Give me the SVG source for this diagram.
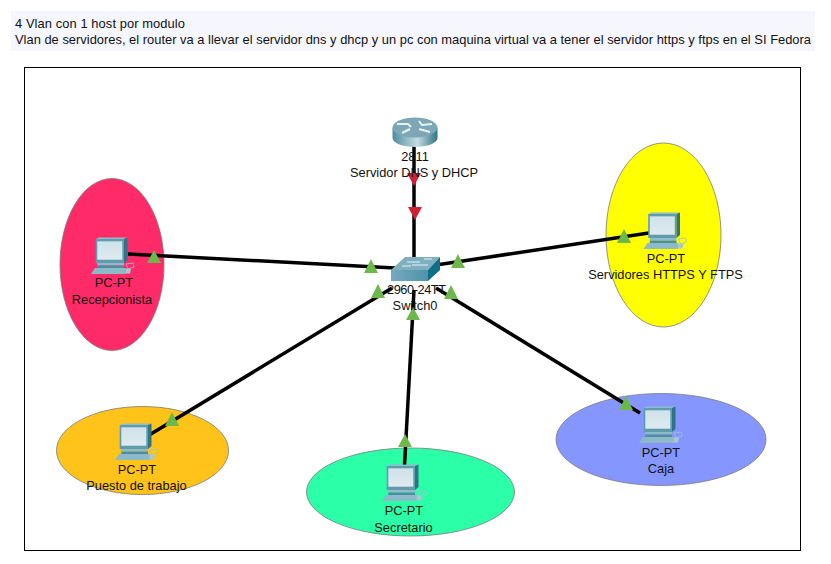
<svg xmlns="http://www.w3.org/2000/svg" width="831" height="564" viewBox="0 0 831 564">
<style>
text{font-family:"Liberation Sans",Arial,sans-serif;font-size:12.8px;fill:#111}
.h{font-size:12.9px}
.c{text-anchor:middle}
.l{stroke:#000;stroke-width:3.5;fill:none}
.g{fill:#6cb84a}
.r{fill:#d02035}
.z{stroke:#7a7a7a;stroke-width:.8}
</style>
<defs>
<linearGradient id="sc" x1="0" y1="0" x2="0" y2="1"><stop offset="0" stop-color="#cfe2ea"/><stop offset="1" stop-color="#dfeaf0"/></linearGradient>
<linearGradient id="rt" x1="0" y1="0" x2="1" y2="0"><stop offset="0" stop-color="#4f8c9c"/><stop offset=".55" stop-color="#c4dce3"/><stop offset="1" stop-color="#2f7486"/></linearGradient>
<linearGradient id="sw" x1="0" y1="0" x2="1" y2="0"><stop offset="0" stop-color="#74aabd"/><stop offset="1" stop-color="#4f93aa"/></linearGradient>
<g id="pc">
<path d="M-17 -3L-14 -4.500H14.500L11 -3Z" fill="#8fbccb"/>
<rect x="-17.300" y="-3" width="28.300" height="24" fill="#5f9cae"/>
<path d="M11 -3L14.500 -4.500V18L11 21Z" fill="#2f7486"/>
<rect x="-15.700" y="-.7" width="25" height="18.400" fill="url(#sc)"/>
<path d="M-15.700 21H11V23.500H-15.700Z" fill="#8fbccb"/>
<path d="M-15.700 23.500H11V26H-15.700Z" fill="#4e8d9f"/>
<path d="M-18 26H13L12.700 32H-22Z" fill="#8dbac8"/>
<path d="M13 22L20 21L21 25L15 27Z" fill="none" stroke="#9cc1cd" stroke-width=".8"/>
<path d="M13 26.500H18L17 31.500H12.500Z" fill="#a9c8d3"/>
</g>
</defs>
<rect x="0" y="0" width="831" height="564" fill="#fff"/>
<rect x="11" y="11" width="804" height="40" fill="#f6f7fe"/>
<text class="h" x="15" y="28" textLength="170">4 Vlan con 1 host por modulo</text>
<text class="h" x="15" y="44" textLength="796">Vlan de servidores, el router va a llevar el servidor dns y dhcp y un pc con maquina virtual va a tener el servidor https y ftps en el SI Fedora</text>
<rect x="24.500" y="67.500" width="776" height="483" fill="#fff" stroke="#000" stroke-width="1"/>
<g id="zones">
<ellipse class="z" cx="112" cy="264.500" rx="52" ry="86" fill="#ff2a68"/>
<ellipse class="z" cx="663.500" cy="235" rx="57.500" ry="92" fill="#ffff00"/>
<ellipse class="z" cx="142.500" cy="450.500" rx="86" ry="44" fill="#ffc31a"/>
<ellipse class="z" cx="410.500" cy="492" rx="104" ry="44" fill="#2bffa8"/>
<ellipse class="z" cx="661" cy="439.500" rx="105" ry="46" fill="#8696ff"/>
</g>
<g id="connectors">
<path class="l" d="M414 145V262"/>
<path class="l" d="M128 254L395 268"/>
<path class="l" d="M436 265L662 231"/>
<path class="l" d="M392 288L141 440"/>
<path class="l" d="M414 290L404 475"/>
<path class="l" d="M436 288L640 413"/>
<polygon class="r" points="407,173 421,173 414,186"/>
<polygon class="r" points="408,207 422,207 415,220"/>
<polygon class="g" points="154,250 161,263 147,263"/>
<polygon class="g" points="371,259 378,273 364,273"/>
<polygon class="g" points="458,254 465,268 451,268"/>
<polygon class="g" points="624,229 631,243 617,243"/>
<polygon class="g" points="378,284 385,298 371,298"/>
<polygon class="g" points="172,412 179,426 165,426"/>
<polygon class="g" points="413,307 420,320 406,320"/>
<polygon class="g" points="405,434 412,447 398,447"/>
<polygon class="g" points="451,285 458,299 444,299"/>
<polygon class="g" points="626,396 633,410 619,410"/>
</g>
<g id="router">
<path d="M392.500 128V138C392.500 143 403 147 415 147C427 147 437.500 143 437.500 138V128Z" fill="url(#rt)"/>
<ellipse cx="415" cy="127.500" rx="22.500" ry="10" fill="#7da7b4"/>
<path d="M397 124L408 124L411 127M432 124L422 125L419 121M402 133L410 129M419 129L430 132" stroke="#e8f2f5" stroke-width="2" fill="none"/>
<text class="c" x="415" y="161">2811</text>
<text class="c" x="414" y="177">Servidor DNS y DHCP</text>
</g>
<g id="switch">
<path d="M391 270L405 257H440L428 270Z" fill="#7fb0c0"/>
<path d="M391 270H428V281H391Z" fill="url(#sw)"/>
<path d="M428 270L440 257V270L428 281Z" fill="#0f6f86"/>
<path d="M407 262H420M424 259L432 259M412 265H428M402 266H411" stroke="#e8f2f5" stroke-width="1.200"/>
<text class="c" x="416.500" y="294" textLength="59">2960-24TT</text>
<text class="c" x="415" y="310">Switch0</text>
</g>
<g id="pc-recepcionista">
<use href="#pc" x="113" y="242"/>
<text class="c" x="114" y="287">PC-PT</text>
<text class="c" x="112" y="304">Recepcionista</text>
</g>
<g id="pc-servidores">
<use href="#pc" x="665.500" y="217"/>
<text class="c" x="666" y="263">PC-PT</text>
<text class="c" x="665.500" y="279">Servidores HTTPS Y FTPS</text>
</g>
<g id="pc-puesto">
<use href="#pc" x="137" y="428"/>
<text class="c" x="137" y="474">PC-PT</text>
<text class="c" x="136.500" y="490">Puesto de trabajo</text>
</g>
<g id="pc-secretario">
<use href="#pc" x="404" y="469"/>
<text class="c" x="404" y="515">PC-PT</text>
<text class="c" x="403.500" y="532">Secretario</text>
</g>
<g id="pc-caja">
<use href="#pc" x="661" y="411"/>
<text class="c" x="661" y="457">PC-PT</text>
<text class="c" x="661" y="473">Caja</text>
</g>
</svg>
